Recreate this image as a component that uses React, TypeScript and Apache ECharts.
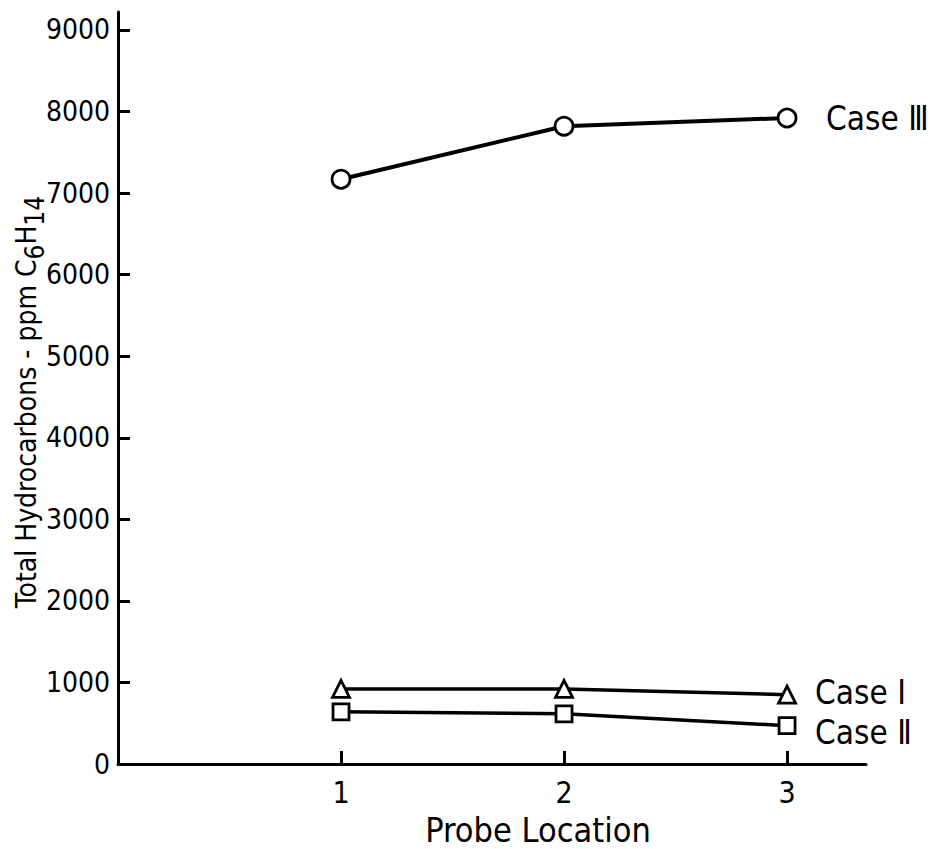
import React, { useEffect, useRef } from "react";
import * as echarts from "echarts";

const probeLocations = [1, 2, 3];
const caseI = [920, 920, 850];
const caseII = [640, 615, 470];
const caseIII = [7170, 7820, 7920];
const yTicks = [0, 1000, 2000, 3000, 4000, 5000, 6000, 7000, 8000, 9000];
const seriesNames = ["Case \u2160", "Case \u2161", "Case \u2162"];
const yTitle = "{a|Total Hydrocarbons - ppm C}{s|6}{a|H}{s|14}";

const FONT = "'Liberation Sans Narrow', 'DejaVu Sans Condensed', 'Liberation Sans', sans-serif";

export default function App() {
  const ref = useRef<HTMLDivElement>(null);
  useEffect(() => {
    if (!ref.current) return;
    const chart = echarts.init(ref.current, undefined, { renderer: "svg" });
    const pts = (vals: number[]) => probeLocations.map((x, i) => [x, vals[i]]);
    const lineBase = (name: string, vals: number[], symbol: string, size: number, offset: number[], dist: number, lw: number) => ({
      name,
      type: "line",
      data: pts(vals),
      symbol,
      symbolSize: size,
      showAllSymbol: true,
      lineStyle: { color: "#000", width: lw },
      itemStyle: { color: "#fff", borderColor: "#000", borderWidth: 2.8 },
      endLabel: {
        show: true,
        formatter: name,
        color: "#000",
        fontFamily: FONT,
        fontSize: 33,
        distance: dist,
        offset,
      },
      z: 3,
    });
    chart.setOption({
      animation: false,
      backgroundColor: "#fff",
      textStyle: { fontFamily: FONT, color: "#000" },
      grid: { left: 118, right: 74, top: 12, bottom: 85, containLabel: false, outerBoundsMode: "none" },
      graphic: [
        {
          type: "text",
          x: 30,
          y: 402,
          rotation: Math.PI / 2,
          style: {
            text: yTitle,
            textAlign: "center",
            textVerticalAlign: "middle",
            fill: "#000",
            fontFamily: FONT,
            fontSize: 28,
            rich: {
              a: { fontSize: 28, lineHeight: 36, verticalAlign: "top", fontFamily: FONT, fill: "#000" },
              s: { fontSize: 26, lineHeight: 24, verticalAlign: "bottom", fontFamily: FONT, fill: "#000" },
            },
          },
        },
      ],
      xAxis: {
        type: "value",
        min: 0,
        max: 3.354,
        name: "Probe Location",
        nameLocation: "middle",
        nameGap: 49,
        nameTextStyle: { fontSize: 34, color: "#000", fontFamily: FONT, padding: [0, 0, 0, 92] },
        axisLine: { lineStyle: { color: "#000", width: 3 } },
        axisTick: { inside: true, length: 13, lineStyle: { color: "#000", width: 3 }, customValues: probeLocations },
        axisLabel: { fontSize: 30, color: "#000", fontFamily: FONT, margin: 13, customValues: probeLocations, formatter: (v: number) => String(v) },
        splitLine: { show: false },
      },
      yAxis: {
        type: "value",
        min: 0,
        max: 9220,
        axisLine: { lineStyle: { color: "#000", width: 3 } },
        axisTick: { inside: true, length: 12, lineStyle: { color: "#000", width: 3 }, customValues: yTicks.slice(1) },
        axisLabel: { fontSize: 28, color: "#000", fontFamily: FONT, margin: 8, customValues: yTicks, formatter: (v: number) => String(v) },
        splitLine: { show: false },
      },
      series: [
        lineBase(seriesNames[0], caseI, "triangle", 17, [0, -2], 28, 3.5),
        lineBase(seriesNames[1], caseII, "rect", 16, [0, 7], 28, 3.5),
        lineBase(seriesNames[2], caseIII, "circle", 18, [0, 0], 39, 4),
      ],
    });
    return () => chart.dispose();
  }, []);
  return <div ref={ref} style={{ position: "absolute", left: 0, top: 0, width: 940, height: 849 }} />;
}
